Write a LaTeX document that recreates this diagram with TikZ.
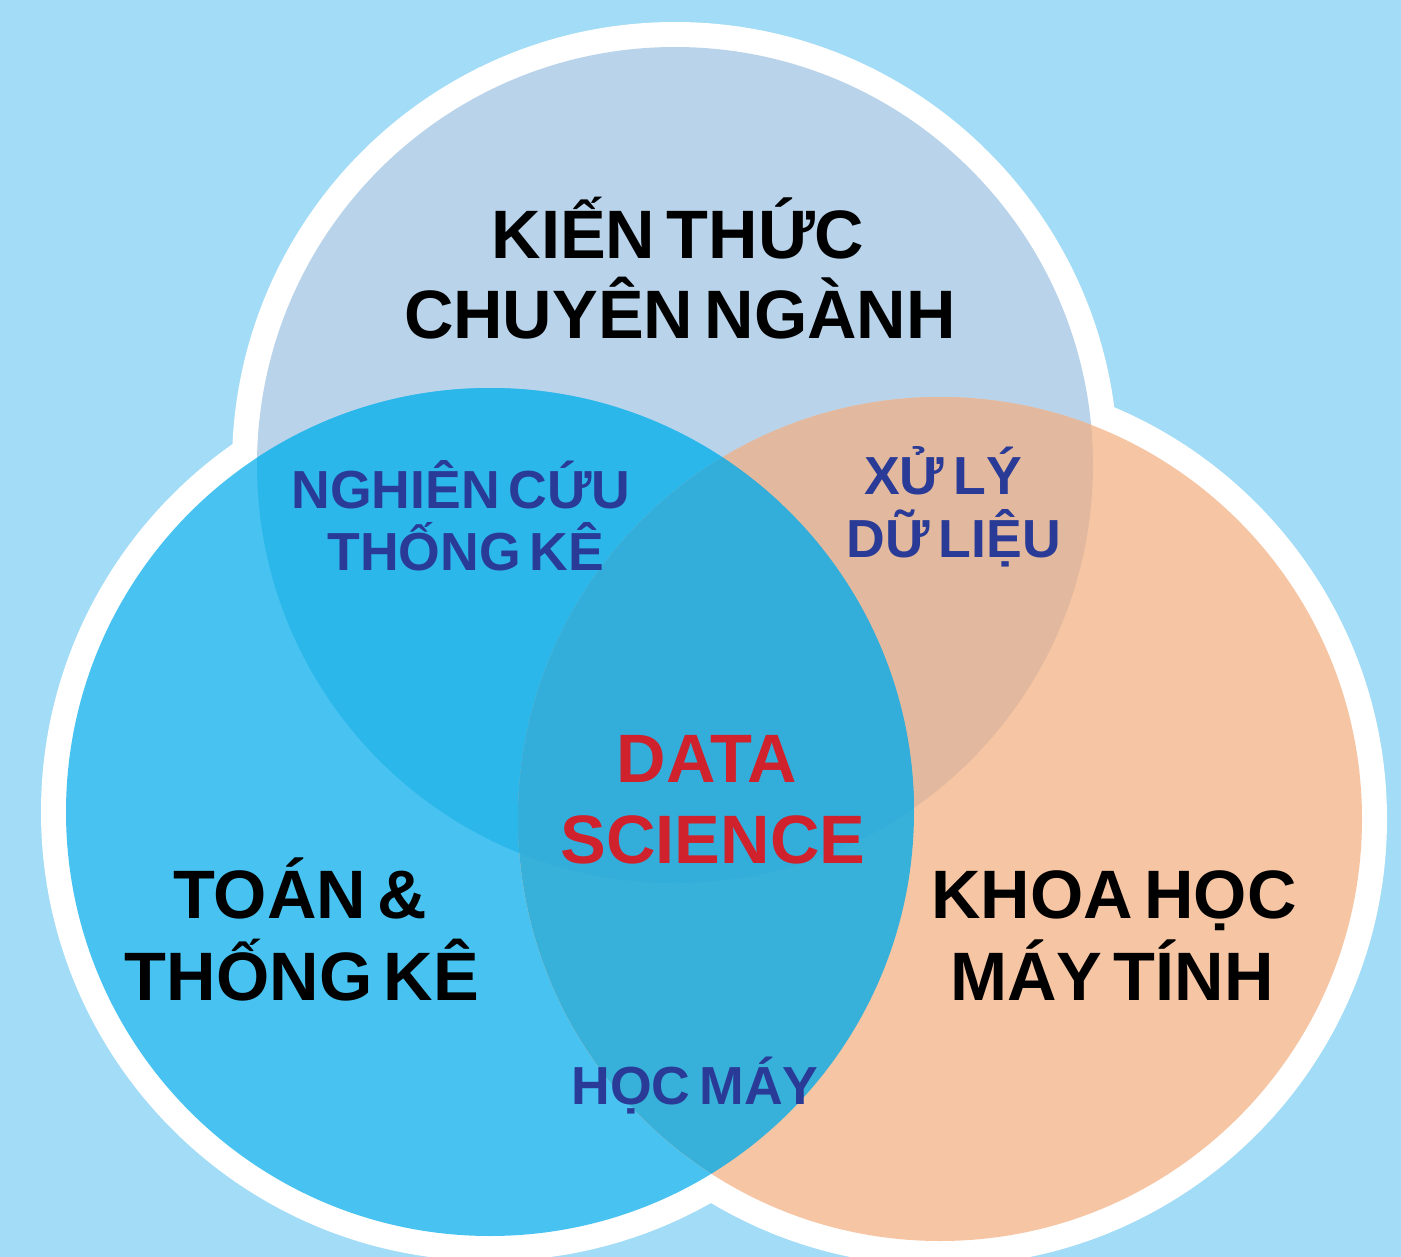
\documentclass[tikz,border=0pt]{standalone}
\usepackage{fontspec}
\setmainfont{Liberation Sans}[WordSpace=0.6]
\usetikzlibrary{calc,positioning,backgrounds}

\definecolor{skybg}{HTML}{A2DCF6}
\definecolor{setT}{HTML}{B9D3EA}
\definecolor{setL}{HTML}{48C3F1}
\definecolor{setR}{HTML}{F6C6A4}
\definecolor{setTL}{HTML}{2CB7EB}
\definecolor{setTR}{HTML}{E2B89E}
\definecolor{setLR}{HTML}{38B1DA}
\definecolor{setTLR}{HTML}{33ADD9}
\definecolor{navytext}{HTML}{293B97}
\definecolor{dsred}{HTML}{D0222D}

\begin{document}
\begin{tikzpicture}[x=0.02cm,y=-0.02cm,
  bigtext/.style={font=\bfseries\fontsize{39}{46}\selectfont,text=black,anchor=base,inner sep=0pt},
  midtext/.style={font=\bfseries\fontsize{30.5}{36}\selectfont,text=navytext,anchor=base,inner sep=0pt},
  dstext/.style={font=\bfseries\fontsize{39}{46}\selectfont,text=dsred,anchor=base,inner sep=0pt}]

	%% Background and page size
	\fill[skybg] (0,0) rectangle (1401,1257);
	\useasboundingbox (0,0) rectangle (1401,1257);

	%% Centres of the three sets (in pixels of the target)
	\coordinate (T) at (675,465); % top set
	\coordinate (L) at (490,812); % left set
	\coordinate (R) at (940,819); % right set
	\def\rT{418}
	\def\rL{424}
	\def\rR{422}

	%% White rim round the union
	\fill[white] (T) circle[radius=\rT+25];
	\fill[white] (L) circle[radius=\rL+25];
	\fill[white] (R) circle[radius=\rR+25];

	%% The three sets
	\fill[setT] (T) circle[radius=\rT];
	\fill[setL] (L) circle[radius=\rL];
	\fill[setR] (R) circle[radius=\rR];

	%% Overlaps with the top set
	\begin{scope}
	  \clip (T) circle[radius=\rT];
	  \fill[setTL] (L) circle[radius=\rL];
	  \fill[setTR] (R) circle[radius=\rR];
	\end{scope}

	%% Overlap left/right, then all three
	\begin{scope}
	  \clip (L) circle[radius=\rL];
	  \fill[setLR] (R) circle[radius=\rR];
	  \clip (R) circle[radius=\rR];
	  \fill[setTLR] (T) circle[radius=\rT];
	\end{scope}

	%% Labels of the sets
	\node[bigtext] (kt1) at (678,258) {KIẾN THỨC};
	\node[bigtext] (kt2) at (680,338) {CHUYÊN NGÀNH};
	\node[bigtext] (tk1) at (300,918) {TOÁN \&};
	\node[bigtext] (tk2) at (302,1000) {THỐNG KÊ};
	\node[bigtext] (kh1) at (1114,918) {KHOA HỌC};
	\node[bigtext] (kh2) at (1112,1000) {MÁY TÍNH};

	%% Labels of the overlaps
	\node[midtext] (nc1) at (461,508) {NGHIÊN CỨU};
	\node[midtext] (nc2) at (466,570) {THỐNG KÊ};
	\node[midtext] (xl1) at (943,494) {XỬ LÝ};
	\node[midtext] (xl2) at (954,557) {DỮ LIỆU};
	\node[midtext] (hm) at (695,1104) {HỌC MÁY};

	%% Centre
	\node[dstext] (ds1) at (707,782) {DATA};
	\node[dstext] (ds2) at (713,863) {SCIENCE};
\end{tikzpicture}
\end{document}
